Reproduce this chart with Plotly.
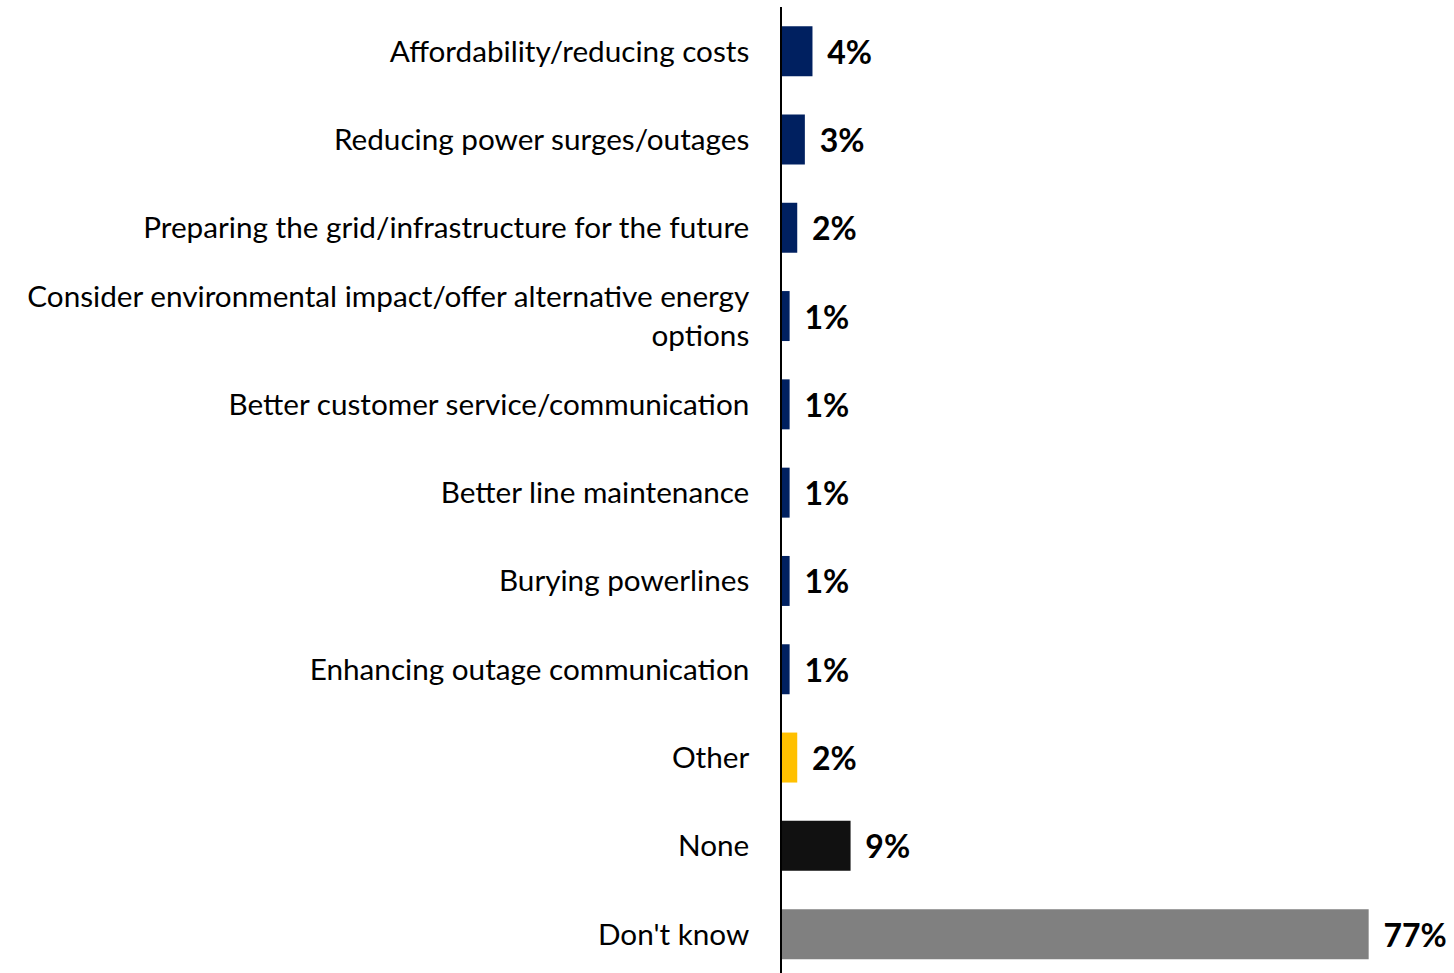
import plotly.graph_objects as go

categories = [
    "Affordability/reducing costs",
    "Reducing power surges/outages",
    "Preparing the grid/infrastructure for the future",
    "Consider environmental impact/offer alternative energy<br>options",
    "Better customer service/communication",
    "Better line maintenance",
    "Burying powerlines",
    "Enhancing outage communication",
    "Other",
    "None",
    "Don't know",
]
values = [4, 3, 2, 1, 1, 1, 1, 1, 2, 9, 77]

NAVY = "#002060"
colors = [NAVY] * 8 + ["#FFC000", "#111111", "#808080"]

FONT = "Lato"

fig = go.Figure(
    go.Bar(
        x=values,
        y=list(range(len(categories))),
        orientation="h",
        marker=dict(color=colors, line=dict(width=0)),
        width=0.566,
        text=[f" \u2009{v}%" for v in values],
        textposition="outside",
        textfont=dict(family=FONT, size=32, color="#000000", weight="bold"),
        cliponaxis=False,
    )
)

fig.update_layout(
    width=1454,
    height=973,
    margin=dict(l=782, r=0, t=7, b=0),
    paper_bgcolor="white",
    plot_bgcolor="white",
    showlegend=False,
    font=dict(family=FONT, color="#000000"),
)

fig.update_xaxes(
    range=[0, 88.2],
    visible=False,
    showgrid=False,
    zeroline=False,
)

fig.update_yaxes(
    range=[10.44, -0.5],
    tickmode="array",
    tickvals=list(range(len(categories))),
    ticktext=categories,
    tickfont=dict(family=FONT, size=29.7, color="#000000"),
    ticklabelstandoff=25,
    ticks="",
    showgrid=False,
    zeroline=False,
    showline=True,
    linecolor="#000000",
    linewidth=1.5,
)

fig.write_html("out.html")
